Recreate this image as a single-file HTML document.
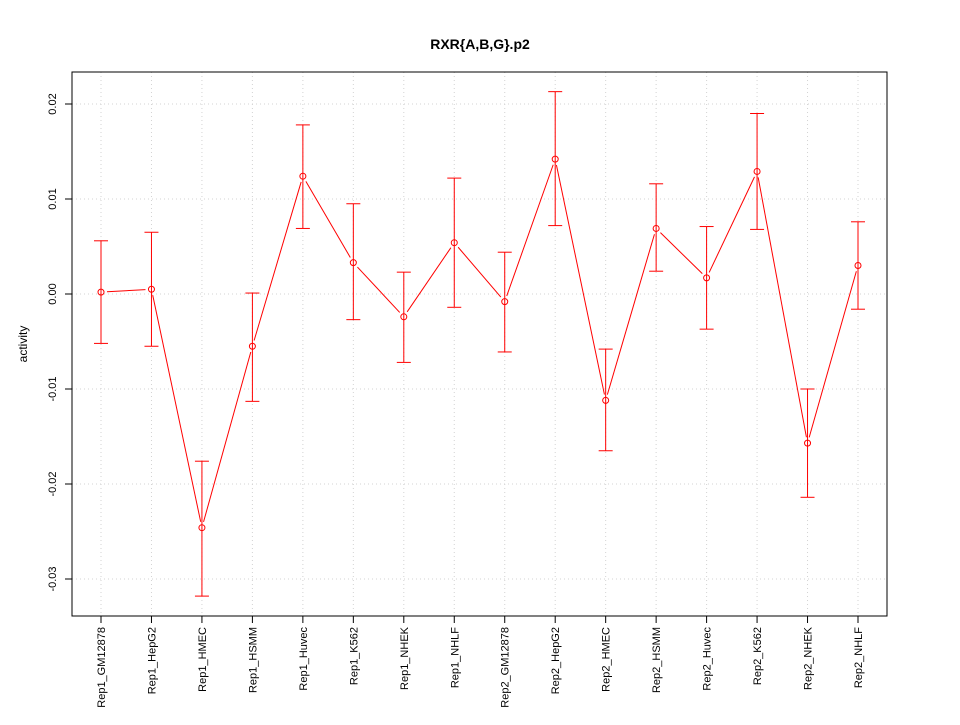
<!DOCTYPE html>
<html><head><meta charset="utf-8"><style>
body{margin:0;background:#fff;}
svg text{font-family:"Liberation Sans",sans-serif;}
</style></head><body>
<svg id="chart" width="960" height="720" xmlns="http://www.w3.org/2000/svg">
<rect width="960" height="720" fill="#fff"/>
<text x="480" y="49" font-size="14" font-weight="bold" text-anchor="middle">RXR{A,B,G}.p2</text>
<text transform="translate(27,344) rotate(-90)" font-size="12" text-anchor="middle">activity</text>
<g id="grid"></g><g id="axes"></g><g id="marks"></g>
<rect x="72" y="72" width="815" height="544" fill="none" stroke="#000"/>
</svg>
<script>
const categories=["Rep1_GM12878","Rep1_HepG2","Rep1_HMEC","Rep1_HSMM","Rep1_Huvec","Rep1_K562","Rep1_NHEK","Rep1_NHLF","Rep2_GM12878","Rep2_HepG2","Rep2_HMEC","Rep2_HSMM","Rep2_Huvec","Rep2_K562","Rep2_NHEK","Rep2_NHLF"];
const values=[0.0002,0.0005,-0.0246,-0.0055,0.0124,0.0033,-0.0024,0.0054,-0.0008,0.0142,-0.0112,0.0069,0.0017,0.0129,-0.0157,0.0030];
const upper=[0.0056,0.0065,-0.0176,0.0001,0.0178,0.0095,0.0023,0.0122,0.0044,0.0213,-0.0058,0.0116,0.0071,0.0190,-0.0100,0.0076];
const lower=[-0.0052,-0.0055,-0.0318,-0.0113,0.0069,-0.0027,-0.0072,-0.0014,-0.0061,0.0072,-0.0165,0.0024,-0.0037,0.0068,-0.0214,-0.0016];
const yTicks=[-0.03,-0.02,-0.01,0,0.01,0.02];
const yTickLabels=["-0.03","-0.02","-0.01","0.00","0.01","0.02"];
const NS="http://www.w3.org/2000/svg";
const x=i=>101+i*(858-101)/(categories.length-1);
const y=v=>294-v*9500;
function mk(t,a,p){const e=document.createElementNS(NS,t);for(const k in a)e.setAttribute(k,a[k]);p.appendChild(e);return e;}
const grid=document.getElementById('grid'),axes=document.getElementById('axes'),marks=document.getElementById('marks');
categories.forEach((c,i)=>{
 const g=mk('line',{x1:x(i),x2:x(i),y1:72,y2:616,stroke:'#d3d3d3','stroke-dasharray':'1,3'},grid);
 
 
 const t=mk('line',{x1:x(i),x2:x(i),y1:616,y2:623,stroke:'#000'},axes);
 
 
 const l=mk('text',{transform:`translate(${x(i)+4},627) rotate(-90)`,'font-size':'11','text-anchor':'end'},axes);
 l.textContent=c;
 
 
});
yTicks.forEach((v,i)=>{
 const g=mk('line',{x1:72,x2:887,y1:y(v),y2:y(v),stroke:'#d3d3d3','stroke-dasharray':'1,3'},grid);
 
 
 const t=mk('line',{x1:65,x2:72,y1:y(v),y2:y(v),stroke:'#000'},axes);
 
 
 const l=mk('text',{transform:`translate(56,${y(v)}) rotate(-90)`,'font-size':'11','text-anchor':'middle'},axes);
 l.textContent=yTickLabels[i];
 
 
});
for(let i=0;i<values.length-1;i++){
 const x1=x(i),y1=y(values[i]),x2=x(i+1),y2=y(values[i+1]);
 const d=Math.hypot(x2-x1,y2-y1),g=6;
 if(d<=2*g)continue;
 const ux=(x2-x1)/d,uy=(y2-y1)/d;
 const s=mk('line',{x1:x1+ux*g,y1:y1+uy*g,x2:x2-ux*g,y2:y2-uy*g,stroke:'red'},marks);
 
 
}
values.forEach((v,i)=>{
 const b=mk('line',{x1:x(i),x2:x(i),y1:y(upper[i]),y2:y(lower[i]),stroke:'red'},marks);
 
 
 [upper[i],lower[i]].forEach(e=>{
  const c=mk('line',{x1:x(i)-7,x2:x(i)+7,y1:y(e),y2:y(e),stroke:'red'},marks);
  
  
 });
 const p=mk('circle',{cx:x(i),cy:y(v),r:3,fill:'none',stroke:'red'},marks);
 
 
});
</script>
</body></html>
